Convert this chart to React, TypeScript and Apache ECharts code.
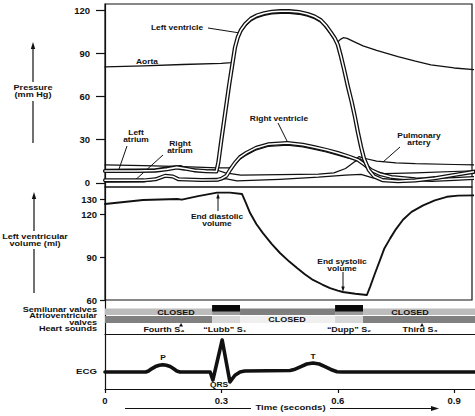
import React, { useEffect, useRef } from 'react';
import * as echarts from 'echarts';

// ---------- data (time in s, pressure in mm Hg, volume in ml, ECG in mV) ----------
const pressureTicks = [0, 30, 60, 90, 120];
const volumeTicks = [60, 90, 120, 130];
const timeTicks = [0, 0.3, 0.6, 0.9];

const aortaPressure: number[][] = [
  [0, 80.5], [0.1, 81.3], [0.2, 82.2], [0.3, 83], [0.325, 83.5], [0.33, 84.5], [0.335, 92.5], [0.342, 99.5],
  [0.35, 104.5], [0.362, 109], [0.376, 112.5], [0.392, 114.8], [0.41, 116.3], [0.43, 117.3], [0.452, 117.7],
  [0.475, 117.7], [0.5, 117.1], [0.522, 115.8], [0.54, 114], [0.556, 111.5], [0.57, 107.5], [0.582, 103],
  [0.592, 99], [0.598, 97.3], [0.606, 99.5], [0.614, 100.8], [0.624, 100.4], [0.64, 98.3], [0.665, 95.2],
  [0.7, 92], [0.755, 87.6], [0.8, 84.5], [0.84, 82], [0.9, 79.8], [0.955, 78.5],
];

const leftVentriclePressure: number[][] = [
  [0, 8.3], [0.08, 8.3], [0.13, 8.6], [0.16, 9.6], [0.185, 10.8], [0.205, 10], [0.23, 8.8], [0.26, 8.2],
  [0.287, 8], [0.292, 14], [0.3, 30], [0.31, 49], [0.32, 68], [0.328, 82], [0.335, 94], [0.342, 101],
  [0.35, 106], [0.362, 110.5], [0.376, 114], [0.392, 116.3], [0.41, 117.8], [0.43, 118.8], [0.452, 119.2],
  [0.475, 119.2], [0.5, 118.6], [0.522, 117.3], [0.54, 115.5], [0.556, 113], [0.57, 109], [0.582, 104.5],
  [0.592, 100.5], [0.6, 96], [0.608, 88], [0.616, 79], [0.626, 67], [0.636, 56], [0.644, 46], [0.652, 35],
  [0.66, 25], [0.668, 16.5], [0.68, 9], [0.694, 4.5], [0.715, 2], [0.755, 1.2], [0.8, 1.8], [0.85, 3.3],
  [0.9, 5.5], [0.955, 8],
];

const leftAtriumPressure: number[][] = [
  [0, 9.5], [0.13, 9.8], [0.17, 11.5], [0.195, 12], [0.215, 10], [0.26, 9], [0.288, 9], [0.31, 7],
  [0.35, 5.5], [0.45, 5.8], [0.55, 6.2], [0.59, 7], [0.62, 10], [0.645, 15], [0.658, 16.8], [0.668, 14],
  [0.685, 9], [0.72, 6.5], [0.8, 7], [0.955, 8.5],
];

const rightVentriclePressure: number[][] = [
  [0, 1.8], [0.1, 1.8], [0.13, 2.5], [0.155, 5], [0.175, 4.5], [0.19, 2.5], [0.25, 2], [0.29, 2.2],
  [0.3, 3], [0.313, 5], [0.322, 9], [0.335, 14], [0.348, 18], [0.365, 21], [0.39, 24.5], [0.42, 26.8],
  [0.47, 27.7], [0.51, 26.5], [0.538, 25], [0.57, 23], [0.6, 20.8], [0.627, 18.5], [0.652, 16],
  [0.67, 12.5], [0.686, 9], [0.71, 6], [0.738, 4.2], [0.8, 2.5], [0.842, 2], [0.9, 2.8], [0.955, 3.5],
];

const rightAtriumPressure: number[][] = [
  [0, 0.6], [0.1, 0.8], [0.13, 2], [0.15, 4.5], [0.17, 4.8], [0.19, 2.5], [0.25, 1.5], [0.29, 1.6],
  [0.31, 3], [0.34, 1.5], [0.45, 2.5], [0.55, 4], [0.62, 5.5], [0.66, 6], [0.69, 3.5], [0.75, 2],
  [0.85, 2.2], [0.955, 2.8],
];

const pulmonaryArteryPressure: number[][] = [
  [0, 12.5], [0.1, 12], [0.2, 11.3], [0.29, 10.5], [0.32, 10.5], [0.335, 12.5], [0.348, 16.5],
  [0.365, 19.5], [0.39, 23], [0.42, 25.3], [0.47, 26.2], [0.51, 25], [0.538, 23.5], [0.57, 21.5],
  [0.6, 19.3], [0.627, 17.2], [0.645, 16.3], [0.655, 18.3], [0.665, 17.3], [0.7, 15.2], [0.75, 14],
  [0.8, 13.4], [0.9, 12.8], [0.955, 12.5],
];

const leftVentricleVolume: number[][] = [
  [0, 127], [0.098, 129.8], [0.186, 130.5], [0.198, 130], [0.24, 132.5], [0.289, 134.9], [0.322, 134.9],
  [0.353, 134], [0.362, 128.5], [0.374, 120.7], [0.39, 113], [0.407, 106.7], [0.43, 99], [0.451, 92.8],
  [0.475, 86.8], [0.495, 82.3], [0.515, 78], [0.536, 74], [0.56, 70.8], [0.58, 68.3], [0.6, 66.5],
  [0.613, 65.6], [0.645, 64.4], [0.675, 63.5], [0.683, 69], [0.695, 78], [0.709, 88], [0.72, 96],
  [0.735, 103], [0.75, 109.5], [0.768, 116], [0.79, 121.5], [0.82, 126], [0.85, 129.5], [0.881, 132],
  [0.91, 132.8], [0.955, 133],
];

const ecgTrace: number[][] = [
  [0, 0], [0.105, 0], [0.112, 0.03], [0.12, 0.1], [0.13, 0.17], [0.14, 0.21], [0.149, 0.23], [0.158, 0.21],
  [0.168, 0.17], [0.177, 0.1], [0.185, 0.03], [0.193, 0], [0.271, 0], [0.278, -0.25], [0.302, 1.0],
  [0.322, -0.31], [0.335, -0.1], [0.348, 0], [0.36, 0.03], [0.477, 0.05], [0.49, 0.09], [0.505, 0.17],
  [0.52, 0.25], [0.536, 0.28], [0.552, 0.25], [0.567, 0.17], [0.582, 0.08], [0.598, 0.01], [0.61, 0],
  [0.96, 0],
];

const semilunarValves = [
  { from: 0, to: 0.276, state: 'closed', label: 'CLOSED', labelAt: 0.183 },
  { from: 0.276, to: 0.348, state: 'isovolumic' },
  { from: 0.348, to: 0.593, state: 'open' },
  { from: 0.593, to: 0.665, state: 'isovolumic' },
  { from: 0.665, to: 0.96, state: 'closed', label: 'CLOSED', labelAt: 0.786 },
];

const atrioventricularValves = [
  { from: 0, to: 0.276, state: 'open' },
  { from: 0.276, to: 0.348, state: 'transition' },
  { from: 0.348, to: 0.593, state: 'closed', label: 'CLOSED', labelAt: 0.469 },
  { from: 0.593, to: 0.665, state: 'transition' },
  { from: 0.665, to: 0.96, state: 'open' },
];

const heartSounds = [
  { label: 'Fourth S\u2084', t: 0.152, marker: 0.196 },
  { label: '\u201cLubb\u201d S\u2081', t: 0.309 },
  { label: '\u201cDupp\u201d S\u2082', t: 0.629 },
  { label: 'Third S\u2083', t: 0.812, marker: 0.817 },
];

// ---------- layout ----------
const FONT = '"Liberation Sans", Arial, Helvetica, sans-serif';
const INK = '#111';
const LEFT = 105;
const TOP_W = 367;
const BOT_W = 370;
const PX_PER_S = 388;
const X_MAX_TOP = TOP_W / PX_PER_S;
const X_MAX_BOT = BOT_W / PX_PER_S;

const valveRows = [
  ...semilunarValves.map((s) => ({ ...s, row: 0 })),
  ...atrioventricularValves.map((s) => ({ ...s, row: 1 })),
];

const fillFor = (row: number, state: string) => {
  if (row === 0) {
    if (state === 'closed') return '#bcbcbc';
    if (state === 'open') return '#7f7f7f';
    return '#9a9a9a';
  }
  if (state === 'open') return '#808080';
  if (state === 'closed') return '#efefef';
  return '#d6d6d6';
};

function buildOption() {
  const txt = (x: number, y: number, text: string, size = 7, align = 'center', sx = 1.2, lh?: number) => ({
    type: 'text',
    silent: true,
    x,
    y,
    scaleX: sx,
    style: {
      x: 0,
      y: 0,
      text,
      align,
      verticalAlign: 'middle',
      font: `bold ${size}px ${FONT}`,
      lineHeight: lh ?? size + 0.5,
      fill: INK,
    },
  });
  const seg = (x1: number, y1: number, x2: number, y2: number, w = 1) => ({
    type: 'line',
    silent: true,
    shape: { x1, y1, x2, y2 },
    style: { stroke: INK, lineWidth: w },
  });
  const head = (pts: number[][]) => ({ type: 'polygon', silent: true, shape: { points: pts }, style: { fill: INK } });

  const graphics = [
    // axis titles
    txt(33, 91.5, 'Pressure\n(mm Hg)', 7, 'center', 1.3, 7.5),
    seg(33, 143, 33, 101, 1.2),
    seg(33, 82, 33, 47, 1.2),
    head([[33, 42], [30.8, 49], [35.2, 49]]),
    txt(35, 240.5, 'Left ventricular\nvolume (ml)', 7, 'center', 1.3, 7),
    seg(34, 293, 34, 249, 1.2),
    seg(34, 231, 34, 197, 1.2),
    head([[34, 192], [31.8, 199], [36.2, 199]]),
    txt(97, 319.6, 'Semilunar valves\nAtrioventricular\nvalves\nHeart sounds', 6.6, 'right', 1.38, 6.45),
    txt(97, 372, 'ECG', 7, 'right', 1.38),
    // time axis title
    txt(290.5, 407.5, 'Time (seconds)', 8, 'center', 1.2),
    seg(125, 408.5, 251, 408.5, 1.2),
    seg(330, 408.5, 433, 408.5, 1.2),
    head([[439, 408.5], [431, 406], [431, 411]]),
    // curve labels
    txt(177, 28, 'Left ventricle'),
    seg(208, 28, 240, 33),
    txt(147, 62, 'Aorta'),
    txt(136, 136.5, 'Left\natrium', 7, 'center', 1.2, 7),
    seg(127, 146, 118, 172),
    txt(180, 147.5, 'Right\natrium', 7, 'center', 1.2, 7),
    seg(163, 155, 133, 182),
    txt(279, 119, 'Right ventricle'),
    seg(278, 123, 288, 143),
    txt(419, 139.2, 'Pulmonary\nartery', 7, 'center', 1.2, 6.5),
    seg(400, 147, 383, 162),
    txt(217, 220.2, 'End diastolic\nvolume', 7, 'center', 1.2, 6.5),
    seg(218, 211, 218, 197),
    head([[218, 193], [216.3, 198.5], [219.7, 198.5]]),
    txt(342, 265.2, 'End systolic\nvolume', 7, 'center', 1.2, 6.5),
    seg(343, 272, 343, 287),
    head([[343, 292], [341.3, 286.5], [344.7, 286.5]]),
    txt(163, 358, 'P'),
    txt(313, 356.5, 'T'),
    txt(219, 384.5, 'QRS'),
  ];

  const line = (name: string, data: number[][], idx: number, width: number, color = INK) => ({
    type: 'line',
    name,
    data,
    xAxisIndex: idx,
    yAxisIndex: idx,
    symbol: 'none',
    showSymbol: false,
    silent: true,
    clip: true,
    lineStyle: { color, width, join: 'round', cap: 'round' },
  });

  const hiddenX = (idx: number, max: number, showLine = false) => ({
    type: 'value',
    gridIndex: idx,
    min: 0,
    max,
    axisLine: { show: showLine, onZero: false, lineStyle: { color: INK, width: 1.2 } },
    axisTick: { show: false },
    axisLabel: { show: false },
    splitLine: { show: false },
  });

  const plainY = (idx: number, min: number, max: number, inverse = false) => ({
    type: 'value',
    gridIndex: idx,
    min,
    max,
    inverse,
    axisLine: { show: true, lineStyle: { color: INK, width: 1.2 } },
    axisTick: { show: false },
    axisLabel: { show: false },
    splitLine: { show: false },
  });

  const cellText = (text: string, x: number, y: number, size: number, sx: number) => ({
    type: 'text',
    x,
    y,
    scaleX: sx,
    style: { text, x: 0, y: 0, align: 'center', verticalAlign: 'middle', font: `bold ${size}px ${FONT}`, fill: INK },
  });

  return {
    animation: false,
    backgroundColor: '#fff',
    textStyle: { fontFamily: FONT },
    grid: [
      { left: LEFT, top: 4, width: TOP_W, height: 183, show: true, borderColor: INK, borderWidth: 1.2, backgroundColor: 'transparent' },
      { left: LEFT, top: 187, width: TOP_W, height: 113, show: true, borderColor: INK, borderWidth: 1.2, backgroundColor: 'transparent' },
      { left: LEFT, top: 300, width: BOT_W, height: 34 },
      { left: LEFT, top: 334, width: BOT_W, height: 55 },
    ],
    xAxis: [
      hiddenX(0, X_MAX_TOP),
      hiddenX(1, X_MAX_TOP),
      hiddenX(2, X_MAX_BOT, true),
      {
        type: 'value',
        gridIndex: 3,
        min: 0,
        max: X_MAX_BOT,
        axisLine: { show: true, onZero: false, lineStyle: { color: INK, width: 1.2 } },
        axisTick: { show: true, length: 4, customValues: timeTicks, lineStyle: { color: INK, width: 1.2 } },
        axisLabel: {
          show: true,
          customValues: timeTicks,
          margin: 6,
          color: INK,
          fontWeight: 'bold',
          fontSize: 9.5,
          fontFamily: FONT,
          formatter: (v: number) => (v === 0 ? '0' : v.toFixed(1)),
        },
        splitLine: { show: false },
      },
    ],
    yAxis: [
      {
        type: 'value',
        gridIndex: 0,
        min: -2.8,
        max: 124.2,
        axisLine: { show: true, lineStyle: { color: INK, width: 1.2 } },
        axisTick: { show: true, length: 9, customValues: pressureTicks, lineStyle: { color: INK, width: 1.2 } },
        axisLabel: { show: true, customValues: pressureTicks, margin: 15, color: INK, fontWeight: 'bold', fontSize: 9.5, fontFamily: FONT },
        splitLine: { show: false },
      },
      {
        type: 'value',
        gridIndex: 1,
        min: 60,
        max: 138.85,
        axisLine: { show: true, lineStyle: { color: INK, width: 1.2 } },
        axisTick: { show: true, length: 5, customValues: volumeTicks, lineStyle: { color: INK, width: 1.2 } },
        axisLabel: { show: true, customValues: volumeTicks, margin: 8, color: INK, fontWeight: 'bold', fontSize: 9.5, fontFamily: FONT },
        splitLine: { show: false },
      },
      plainY(2, 0, 34, true),
      plainY(3, -0.53, 1.1875),
    ],
    graphic: graphics,
    series: [
      line('Aorta', aortaPressure, 0, 1.3),
      line('Pulmonary artery', pulmonaryArteryPressure, 0, 1.2),
      line('Left atrium', leftAtriumPressure, 0, 1.2),
      line('Right atrium', rightAtriumPressure, 0, 1.2),
      line('Right ventricle', rightVentriclePressure, 0, 4),
      line('Right ventricle inner', rightVentriclePressure, 0, 1.5, '#fff'),
      line('Left ventricle', leftVentriclePressure, 0, 4.2),
      line('Left ventricle inner', leftVentriclePressure, 0, 1.6, '#fff'),
      line('Left ventricular volume', leftVentricleVolume, 1, 1.9),
      line('ECG', ecgTrace, 3, 3.6),
      {
        type: 'custom',
        name: 'Valves',
        xAxisIndex: 2,
        yAxisIndex: 2,
        silent: true,
        data: valveRows.map((s) => [s.from, s.to]),
        encode: { x: [0, 1] },
        renderItem: (params: any, api: any) => {
          const s: any = valveRows[params.dataIndex];
          const x0 = api.coord([s.from, 0])[0];
          const x1 = api.coord([s.to, 0])[0];
          const yTop = api.coord([0, s.row === 0 ? 8.5 : 16])[1];
          const yBot = api.coord([0, s.row === 0 ? 15 : 23])[1];
          const children: any[] = [
            { type: 'rect', shape: { x: x0, y: yTop, width: x1 - x0, height: yBot - yTop }, style: { fill: fillFor(s.row, s.state) } },
          ];
          if (s.row === 0 && s.state === 'isovolumic') {
            const bTop = api.coord([0, 5])[1];
            const bBot = api.coord([0, 11.5])[1];
            children.push({ type: 'rect', shape: { x: x0, y: bTop, width: x1 - x0, height: bBot - bTop }, style: { fill: '#0a0a0a' } });
          }
          if (s.label) {
            children.push(cellText(s.label, api.coord([s.labelAt, 0])[0], (yTop + yBot) / 2 + 0.5, 7.5, 1.2));
          }
          return { type: 'group', children };
        },
      },
      {
        type: 'custom',
        name: 'Heart sounds',
        xAxisIndex: 2,
        yAxisIndex: 2,
        silent: true,
        data: heartSounds.map((h) => [h.t, 29]),
        encode: { x: 0, y: 1 },
        renderItem: (params: any, api: any) => {
          const h: any = heartSounds[params.dataIndex];
          const x = api.coord([h.t, 0])[0];
          const y = api.coord([0, 29.5])[1];
          const children: any[] = [cellText(h.label, x, y, 7.2, 1.25)];
          if (h.marker != null) {
            const mx = api.coord([h.marker, 0])[0];
            const my = api.coord([0, 25])[1];
            children.push({ type: 'polygon', shape: { points: [[mx, my - 2], [mx - 2, my + 1.5], [mx + 2, my + 1.5]] }, style: { fill: INK } });
          }
          return { type: 'group', children };
        },
      },
    ],
  };
}

export default function App() {
  const ref = useRef<HTMLDivElement>(null);
  useEffect(() => {
    if (!ref.current) return;
    const chart = echarts.init(ref.current, null, { renderer: 'svg' });
    chart.setOption(buildOption() as any);
    return () => chart.dispose();
  }, []);
  return (
    <div
      ref={ref}
      style={{ position: 'absolute', left: 0, top: 0, width: 475, height: 416, background: '#fff' }}
    />
  );
}
